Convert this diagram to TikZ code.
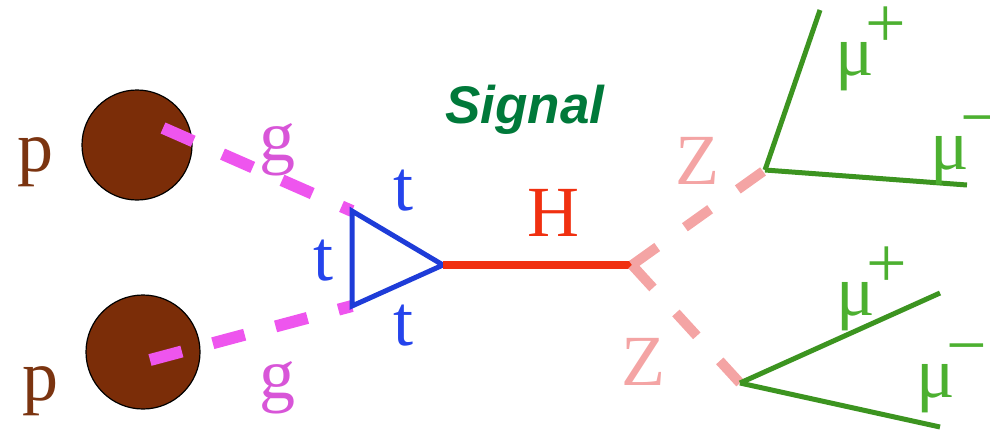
\documentclass[tikz,border=0pt]{standalone}
\usepackage{fontspec}
\setmainfont{Liberation Serif}
\newfontfamily\signalfont{Liberation Sans}
\definecolor{protonbrown}{HTML}{7B2D08}
\definecolor{plabel}{HTML}{7B3410}
\definecolor{gluonpink}{HTML}{EE55EE}
\definecolor{glabel}{HTML}{D855D8}
\definecolor{topblue}{HTML}{1E3CD8}
\definecolor{tlabel}{HTML}{2544EC}
\definecolor{higgsred}{HTML}{F03010}
\definecolor{zpink}{HTML}{F4A4A4}
\definecolor{mugreen}{HTML}{3C9420}
\definecolor{mulabel}{HTML}{4CB030}
\definecolor{signalgreen}{HTML}{00793A}
\newcommand\muon[1]{μ\kern-0.12em\raisebox{0.38em}{#1}}

\begin{document}
\begin{tikzpicture}[x=1pt,y=-1pt,
  lbl/.style={inner sep=0pt, font=\fontsize{72}{80}\selectfont},
  proton/.style={circle, draw=black, line width=1.2pt, fill=protonbrown, minimum size=110pt, inner sep=0pt},
  gluon/.style={line width=12pt, gluonpink, dash pattern=on 33pt off 32pt},
  zline/.style={line width=10pt, zpink, dash pattern=on 31pt off 34pt},
  muline/.style={line width=5pt, mugreen}]
\useasboundingbox (0,0) rectangle (990,432);
% protons
\node[proton] (p1) at (137,145) {};
\node[proton, minimum size=114pt] (p2) at (143,352) {};
\node[lbl, plabel] (p1lbl) at (35,162) {p};
\node[lbl, plabel] (p2lbl) at (40,391) {p};
% vertices
\coordinate (g1s) at (163,128);
\coordinate (g2s) at (150,360);
\coordinate (ta) at (352,211);
\coordinate (tb) at (352,306);
\coordinate (tc) at (443,265);
\coordinate (hz) at (632,265);
\coordinate (zt) at (765,170);
\coordinate (zb) at (740,383);
\coordinate (m1p) at (820,10);
\coordinate (m1m) at (967,185);
\coordinate (m2p) at (940,293);
\coordinate (m2m) at (940,427);
% gluons
\draw[gluon] (g1s) -- (ta);
\draw[gluon] (g2s) -- (tb);
\node[lbl, glabel] (g1lbl) at (277,150) {g};
\node[lbl, glabel] (g2lbl) at (277,388) {g};
% top loop
\draw[topblue, line width=5pt, line join=miter] (ta) -- (tc) -- (tb) -- cycle;
\node[lbl, tlabel] (t1) at (403,191) {t};
\node[lbl, tlabel] (t2) at (323,261) {t};
\node[lbl, tlabel] (t3) at (403,326) {t};
% Higgs
\draw[higgsred, line width=7.5pt] (tc) -- (hz);
\node[lbl, higgsred] (hlbl) at (553,213) {H};
% Z bosons
\draw[zline] (hz) -- (zt);
\draw[zline] (hz) -- (zb);
\node[lbl, zpink] (z1) at (697,161) {Z};
\node[lbl, zpink] (z2) at (643,362) {Z};
% muons
\draw[muline] (zt) -- (m1p);
\draw[muline] (zt) -- (m1m);
\draw[muline] (zb) -- (m2p);
\draw[muline] (zb) -- (m2m);
\node[lbl, mulabel, anchor=base west] (mu1) at (835,75) {\muon{+}};
\node[lbl, mulabel, anchor=base west] (mu2) at (930,169) {\muon{−}};
\node[lbl, mulabel, anchor=base west] (mu3) at (836,315) {\muon{+}};
\node[lbl, mulabel, anchor=base west] (mu4) at (916,397) {\muon{−}};
% title
\node[inner sep=0pt, anchor=base, signalgreen, font=\signalfont\bfseries\itshape\fontsize{53}{60}\selectfont] (title) at (525,123) {Signal};
\end{tikzpicture}
\end{document}
